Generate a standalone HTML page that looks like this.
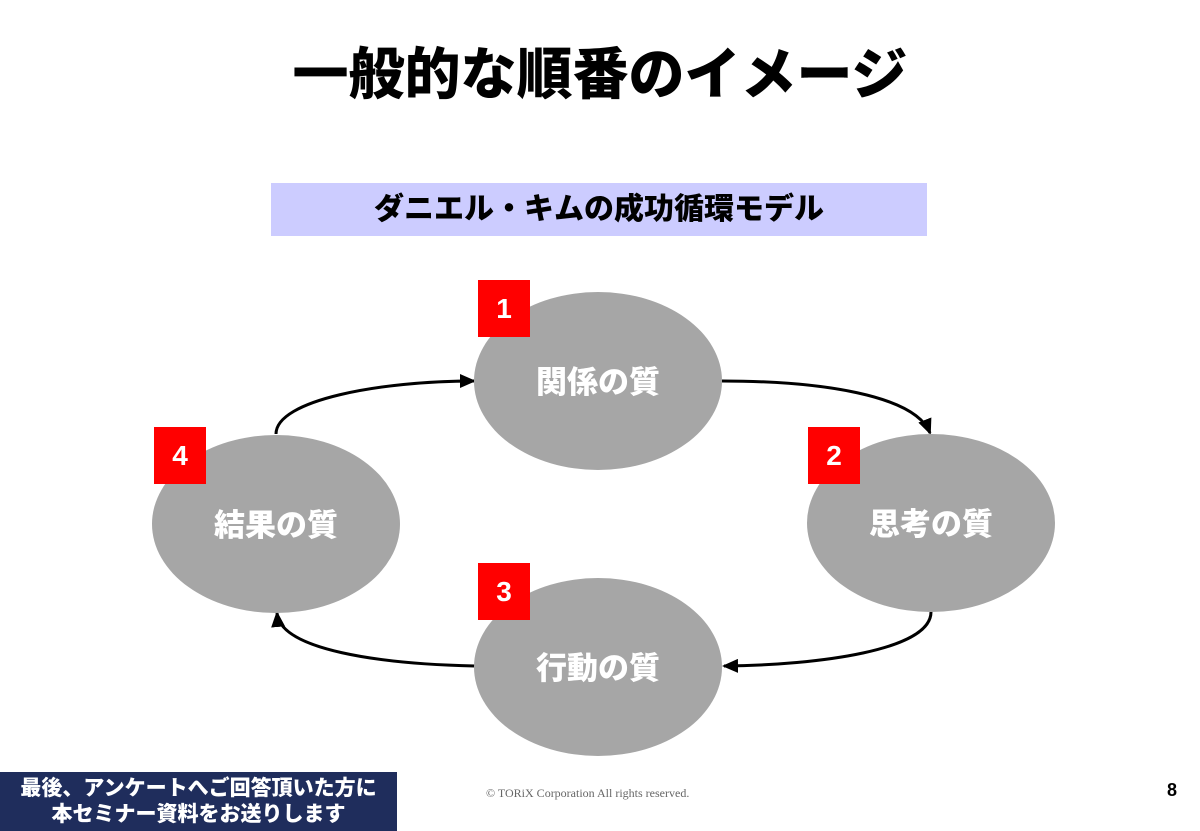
<!DOCTYPE html>
<html><head><meta charset="utf-8"><style>
body{margin:0;width:1200px;height:831px;background:#fff;position:relative;overflow:hidden;font-family:"Liberation Sans","Noto Sans CJK JP",sans-serif}
.t{position:absolute;left:0;width:1200px;top:38px;text-align:center;font-size:56px;font-weight:900;color:#000;line-height:74px}
.sub{position:absolute;left:271px;top:183px;width:656px;height:53px;background:#ccccff;text-align:center;font-size:30px;font-weight:900;line-height:53px}
.foot{position:absolute;left:0;top:772px;width:397px;height:59px;background:#1f2d5c;color:#fff;font-size:21px;font-weight:900;text-align:center;line-height:26px;padding-top:4px;box-sizing:border-box;white-space:nowrap}
.c{position:absolute;left:486px;top:786px;font-family:"Liberation Serif",serif;font-size:12px;color:#666}
.p{position:absolute;left:1167px;top:780px;font-size:18px;font-weight:bold}
</style></head><body>
<div class="t">一般的な順番のイメージ</div>
<div class="sub">ダニエル・キムの成功循環モデル</div>
<svg width="1200" height="831" style="position:absolute;left:0;top:0">
<defs><marker id="a" markerWidth="16" markerHeight="14" refX="14" refY="7" orient="auto" markerUnits="userSpaceOnUse" viewBox="0 0 16 14"><path d="M0,0 L16,7 L0,14z" fill="#000"/></marker></defs>
<g fill="none" stroke="#000" stroke-width="3">
<path d="M276,434 C276,400 380,381 474,381" marker-end="url(#a)"/>
<path d="M722,381 C820,381 915,395 930,433" marker-end="url(#a)"/>
<path d="M931,612 C931,650 820,665 724,666" marker-end="url(#a)"/>
<path d="M475,666 C380,664 280,650 277,613" marker-end="url(#a)"/>
</g>
<g fill="#a6a6a6">
<ellipse cx="598" cy="381" rx="124" ry="89"/>
<ellipse cx="931" cy="523" rx="124" ry="89"/>
<ellipse cx="598" cy="667" rx="124" ry="89"/>
<ellipse cx="276" cy="524" rx="124" ry="89"/>
</g>
<g fill="#f00">
<rect x="478" y="280" width="52" height="57"/>
<rect x="808" y="427" width="52" height="57"/>
<rect x="478" y="563" width="52" height="57"/>
<rect x="154" y="427" width="52" height="57"/>
</g>
<g fill="#fff" font-weight="900" font-size="28" text-anchor="middle" font-family="Liberation Sans, Noto Sans CJK JP, sans-serif">
<text x="504" y="318">1</text><text x="834" y="465">2</text><text x="504" y="601">3</text><text x="180" y="465">4</text>
</g>
<g fill="#fff" font-weight="900" font-size="31" text-anchor="middle" font-family="Liberation Sans, Noto Sans CJK JP, sans-serif">
<text x="598" y="393">関係の質</text><text x="931" y="535">思考の質</text><text x="598" y="679">行動の質</text><text x="276" y="536">結果の質</text>
</g>
</svg>
<div class="foot">最後、アンケートへご回答頂いた方に<br>本セミナー資料をお送りします</div>
<div class="c">© TORiX Corporation All rights reserved.</div>
<div class="p">8</div>
</body></html>
